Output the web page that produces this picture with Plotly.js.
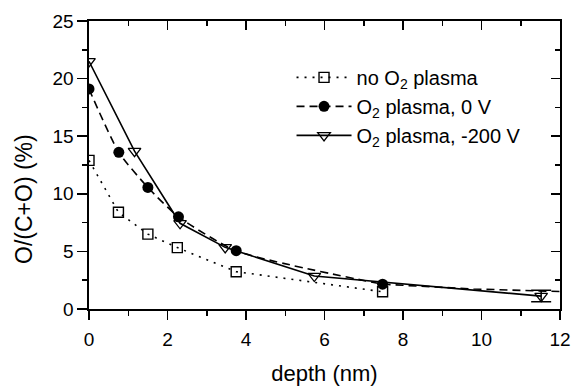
<!DOCTYPE html>
<html>
<head>
<meta charset="utf-8">
<script src="https://cdn.plot.ly/plotly-3.0.1.min.js"></script>
<style>html,body{margin:0;padding:0;background:#fff;}#chart{width:572px;height:386px;}</style>
</head>
<body>
<div id="chart"></div>
<script>
// Data
var seriesNames = ['no O<sub>2</sub> plasma', 'O<sub>2</sub> plasma, 0 V', 'O<sub>2</sub> plasma, -200 V'];

var noPlasmaX = [0, 0.75, 1.5, 2.25, 3.75, 7.48];
var noPlasmaY = [12.9, 8.4, 6.5, 5.33, 3.24, 1.5];

var plasma0X = [0, 0.76, 1.5, 2.28, 3.75, 7.48];
var plasma0Y = [19.1, 13.6, 10.55, 8.0, 5.06, 2.15];

// tail of the dashed curve beyond the last measured point
var plasma0TailX = [7.48, 8.0, 9.8, 12.0];
var plasma0TailY = [2.15, 2.05, 1.74, 1.52];

var plasma200X = [0, 1.16, 2.32, 3.47, 5.74, 11.52];
var plasma200Y = [21.5, 13.7, 7.44, 5.35, 2.86, 1.12];
// error bar only on the deepest -200 V point
var plasma200ErrX = [11.52];
var plasma200ErrY = [1.12];
var plasma200Err = [0.5];

var xTickVals = [0, 2, 4, 6, 8, 10, 12];
var yTickVals = [0, 5, 10, 15, 20, 25];

var black = '#000';
var font = 'Liberation Sans, Arial, Helvetica, sans-serif';

var traces = [
  {
    x: noPlasmaX, y: noPlasmaY, name: seriesNames[0], mode: 'lines+markers', type: 'scatter',
    line: {color: black, width: 1.6, dash: '2px,6px'},
    marker: {symbol: 'square-open', size: 10, color: black, line: {width: 1.4, color: black}}
  },
  {
    x: plasma0X, y: plasma0Y, name: seriesNames[1], mode: 'lines+markers', type: 'scatter',
    line: {color: black, width: 1.6, dash: '8px,5px', shape: 'spline', smoothing: 0.6},
    marker: {symbol: 'circle', size: 11, color: black}
  },
  {
    x: plasma0TailX, y: plasma0TailY, mode: 'lines', type: 'scatter', showlegend: false, hoverinfo: 'skip',
    line: {color: black, width: 1.6, dash: '8px,5px'}
  },
  {
    x: plasma200ErrX, y: plasma200ErrY, mode: 'markers', type: 'scatter', showlegend: false, hoverinfo: 'skip',
    marker: {size: 1, opacity: 0, color: black},
    error_y: {type: 'data', array: plasma200Err, visible: true, color: black, thickness: 1.5, width: 10}
  },
  {
    x: plasma200X, y: plasma200Y, name: seriesNames[2], mode: 'lines+markers', type: 'scatter',
    line: {color: black, width: 1.6},
    marker: {symbol: 'triangle-down-open', size: 11, color: black, line: {width: 1.3, color: black}}
  },
  {
    x: [], y: [], xaxis: 'x2', yaxis: 'y2', type: 'scatter', mode: 'markers', showlegend: false, hoverinfo: 'skip'
  }
];

var layout = {
  width: 572, height: 386,
  margin: {l: 89, r: 12, t: 21, b: 77},
  paper_bgcolor: '#fff', plot_bgcolor: '#fff',
  font: {family: font, color: black, size: 19},
  showlegend: true,
  legend: {
    x: 0.43, y: 0.872, xanchor: 'left', yanchor: 'top',
    bgcolor: 'rgba(0,0,0,0)', borderwidth: 0,
    font: {family: font, size: 20, color: black},
    itemwidth: 55, tracegroupgap: 0
  },
  xaxis: {
    range: [0, 12], tickvals: xTickVals, ticks: 'outside', ticklen: 9, tickwidth: 1.5, tickcolor: black,
    showline: true, linewidth: 1.6, linecolor: black, mirror: true,
    showgrid: false, zeroline: false, ticklabelstandoff: 4,
    minor: {dtick: 1, tick0: 0, ticks: 'outside', ticklen: 5, tickwidth: 1.5, tickcolor: black, showgrid: false},
    tickfont: {size: 19},
    title: {text: 'depth (nm)', font: {size: 22}, standoff: 18}
  },
  yaxis: {
    range: [0, 25], tickvals: yTickVals, ticks: 'outside', ticklen: 10, tickwidth: 1.5, tickcolor: black,
    showline: true, linewidth: 1.6, linecolor: black, mirror: true,
    showgrid: false, zeroline: false,
    minor: {dtick: 2.5, tick0: 0, ticks: 'outside', ticklen: 5, tickwidth: 1.5, tickcolor: black, showgrid: false},
    tickfont: {size: 19}
  },
  xaxis2: {
    overlaying: 'x', side: 'top', range: [0, 12], tickvals: xTickVals, ticks: 'inside', ticklen: 9, tickwidth: 1.5,
    tickcolor: black, showticklabels: false, showline: false, showgrid: false, zeroline: false,
    minor: {dtick: 1, tick0: 0, ticks: 'inside', ticklen: 5, tickwidth: 1.5, tickcolor: black, showgrid: false}
  },
  yaxis2: {
    overlaying: 'y', side: 'right', range: [0, 25], tickvals: yTickVals, ticks: 'inside', ticklen: 9, tickwidth: 1.5,
    tickcolor: black, showticklabels: false, showline: false, showgrid: false, zeroline: false,
    minor: {dtick: 2.5, tick0: 0, ticks: 'inside', ticklen: 5, tickwidth: 1.5, tickcolor: black, showgrid: false}
  },
  annotations: [{
    text: 'O/(C+O) (%)', xref: 'paper', yref: 'paper', x: -0.138, y: 0.382,
    xanchor: 'center', yanchor: 'middle', textangle: -90, showarrow: false,
    font: {family: font, size: 23, color: black}
  }]
};

Plotly.newPlot('chart', traces, layout, {displayModeBar: false, staticPlot: true});
</script>
</body>
</html>
